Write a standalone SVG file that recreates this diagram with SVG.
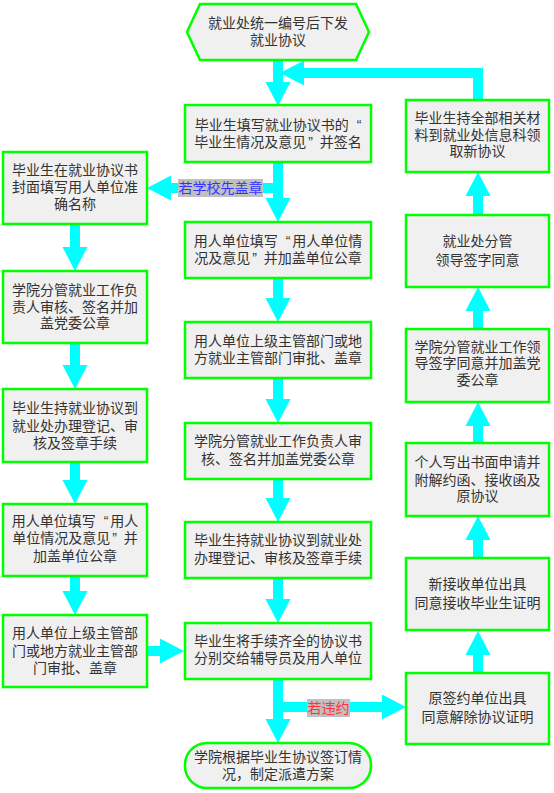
<svg xmlns="http://www.w3.org/2000/svg" width="554" height="793" viewBox="0 0 554 793">
<style>
.box{fill:#f0f0f0;stroke:#00ff00;stroke-width:2.5}
.t{font-family:"Liberation Sans","Noto Sans CJK SC",sans-serif;font-size:14px;fill:#333;text-anchor:middle}
.c{fill:none;stroke:#00ffff;stroke-width:10;marker-end:url(#ah)}
.lbl{fill:#c0c0c0}
.lt{font-family:"Liberation Sans","Noto Sans CJK SC",sans-serif;font-size:14px;text-anchor:middle}
</style>
<defs>
<marker id="ah" markerUnits="userSpaceOnUse" markerWidth="24" markerHeight="25" refX="0" refY="12.5" orient="auto" overflow="visible">
<path d="M0,0 L24,12.5 L0,25 z" fill="#00ffff"/>
</marker>
</defs>
<rect width="554" height="793" fill="#fff"/>
<g id="connectors">
<path class="c" d="M278,60 V82"/>
<path class="c" d="M478,100 V73 H304"/>
<path class="c" d="M278,162 V198"/>
<path class="c" d="M278,188 H171"/>
<path class="c" d="M75,224 V247"/>
<path class="c" d="M75,343 V365"/>
<path class="c" d="M75,462 V480"/>
<path class="c" d="M75,576 V591"/>
<path class="c" d="M147,651 H160"/>
<path class="c" d="M278,278 V298"/>
<path class="c" d="M278,378 V399"/>
<path class="c" d="M278,479 V498"/>
<path class="c" d="M278,578 V599"/>
<path class="c" d="M278,679 V719"/>
<path class="c" d="M278,707 H382"/>
<path class="c" d="M478,673 V655"/>
<path class="c" d="M478,558 V540"/>
<path class="c" d="M478,443 V426"/>
<path class="c" d="M478,329 V311"/>
<path class="c" d="M478,215 V196"/>
<rect class="lbl" x="178" y="179" width="85" height="18"/>
<text class="lt" x="220.5" y="193" fill="#3333ff">若学校先盖章</text>
<rect class="lbl" x="307" y="699" width="43" height="18"/>
<text class="lt" x="328.5" y="713" fill="#ff3333">若违约</text>
</g>
<g id="n_start">
<polygon class="box" points="187,32 200,4 356,4 369,32 356,60 200,60"/>
<text class="t" x="278" y="28">就业处统一编号后下发<tspan x="278" dy="17">就业协议</tspan></text>
</g>
<g id="n_m1">
<rect class="box" x="185" y="105" width="186" height="57"/>
<text class="t" x="278" y="130">毕业生填写就业协议书的<tspan dx="8">“</tspan><tspan x="278" dy="17">毕业生情况及意见<tspan dx="2">”</tspan><tspan dx="7">并签名</tspan></tspan></text>
</g>
<g id="n_m2">
<rect class="box" x="185" y="222" width="186" height="56"/>
<text class="t" x="278" y="246">用人单位填写<tspan dx="8">“</tspan><tspan dx="2">用人单位情</tspan><tspan x="278" dy="17">况及意见<tspan dx="2">”</tspan><tspan dx="7">并加盖单位公章</tspan></tspan></text>
</g>
<g id="n_m3">
<rect class="box" x="185" y="322" width="186" height="56"/>
<text class="t" x="278" y="346">用人单位上级主管部门或地<tspan x="278" dy="17">方就业主管部门审批、盖章</tspan></text>
</g>
<g id="n_m4">
<rect class="box" x="185" y="423" width="186" height="56"/>
<text class="t" x="278" y="446">学院分管就业工作负责人审<tspan x="278" dy="18">核、签名并加盖党委公章</tspan></text>
</g>
<g id="n_m5">
<rect class="box" x="185" y="522" width="186" height="56"/>
<text class="t" x="278" y="545">毕业生持就业协议到就业处<tspan x="278" dy="18">办理登记、审核及签章手续</tspan></text>
</g>
<g id="n_m6">
<rect class="box" x="185" y="623" width="186" height="56"/>
<text class="t" x="278" y="646">毕业生将手续齐全的协议书<tspan x="278" dy="17">分别交给辅导员及用人单位</tspan></text>
</g>
<g id="n_end">
<rect class="box" x="185" y="743" width="186" height="45" rx="22" ry="22"/>
<text class="t" x="278" y="762">学院根据毕业生协议签订情<tspan x="278" dy="17">况，制定派遣方案</tspan></text>
</g>
<g id="n_l1">
<rect class="box" x="3" y="152" width="144" height="72"/>
<text class="t" x="75" y="175">毕业生在就业协议书<tspan x="75" dy="17">封面填写用人单位准</tspan><tspan x="75" dy="17">确名称</tspan></text>
</g>
<g id="n_l2">
<rect class="box" x="3" y="271" width="144" height="72"/>
<text class="t" x="75" y="295">学院分管就业工作负<tspan x="75" dy="17">责人审核、签名并加</tspan><tspan x="75" dy="16">盖党委公章</tspan></text>
</g>
<g id="n_l3">
<rect class="box" x="3" y="389" width="144" height="73"/>
<text class="t" x="75" y="413">毕业生持就业协议到<tspan x="75" dy="18">就业处办理登记、审</tspan><tspan x="75" dy="17">核及签章手续</tspan></text>
</g>
<g id="n_l4">
<rect class="box" x="3" y="504" width="144" height="72"/>
<text class="t" x="75" y="526">用人单位填写<tspan dx="8">“</tspan><tspan dx="2">用人</tspan><tspan x="75" dy="17">单位情况及意见<tspan dx="2">”</tspan><tspan dx="7">并</tspan></tspan><tspan x="75" dy="18">加盖单位公章</tspan></text>
</g>
<g id="n_l5">
<rect class="box" x="3" y="615" width="144" height="72"/>
<text class="t" x="75" y="638">用人单位上级主管部<tspan x="75" dy="18">门或地方就业主管部</tspan><tspan x="75" dy="17">门审批、盖章</tspan></text>
</g>
<g id="n_r1">
<rect class="box" x="406" y="100" width="143" height="72"/>
<text class="t" x="477.5" y="123">毕业生持全部相关材<tspan x="477.5" dy="17">料到就业处信息科领</tspan><tspan x="477.5" dy="16">取新协议</tspan></text>
</g>
<g id="n_r2">
<rect class="box" x="406" y="215" width="143" height="72"/>
<text class="t" x="477.5" y="246">就业处分管<tspan x="477.5" dy="19">领导签字同意</tspan></text>
</g>
<g id="n_r3">
<rect class="box" x="406" y="329" width="143" height="73"/>
<text class="t" x="477.5" y="352">学院分管就业工作领<tspan x="477.5" dy="16">导签字同意并加盖党</tspan><tspan x="477.5" dy="17">委公章</tspan></text>
</g>
<g id="n_r4">
<rect class="box" x="406" y="443" width="143" height="73"/>
<text class="t" x="477.5" y="467">个人写出书面申请并<tspan x="477.5" dy="18">附解约函、接收函及</tspan><tspan x="477.5" dy="16">原协议</tspan></text>
</g>
<g id="n_r5">
<rect class="box" x="406" y="558" width="143" height="72"/>
<text class="t" x="477.5" y="589">新接收单位出具<tspan x="477.5" dy="19">同意接收毕业生证明</tspan></text>
</g>
<g id="n_r6">
<rect class="box" x="406" y="673" width="143" height="71"/>
<text class="t" x="477.5" y="703">原签约单位出具<tspan x="477.5" dy="19">同意解除协议证明</tspan></text>
</g>
</svg>
